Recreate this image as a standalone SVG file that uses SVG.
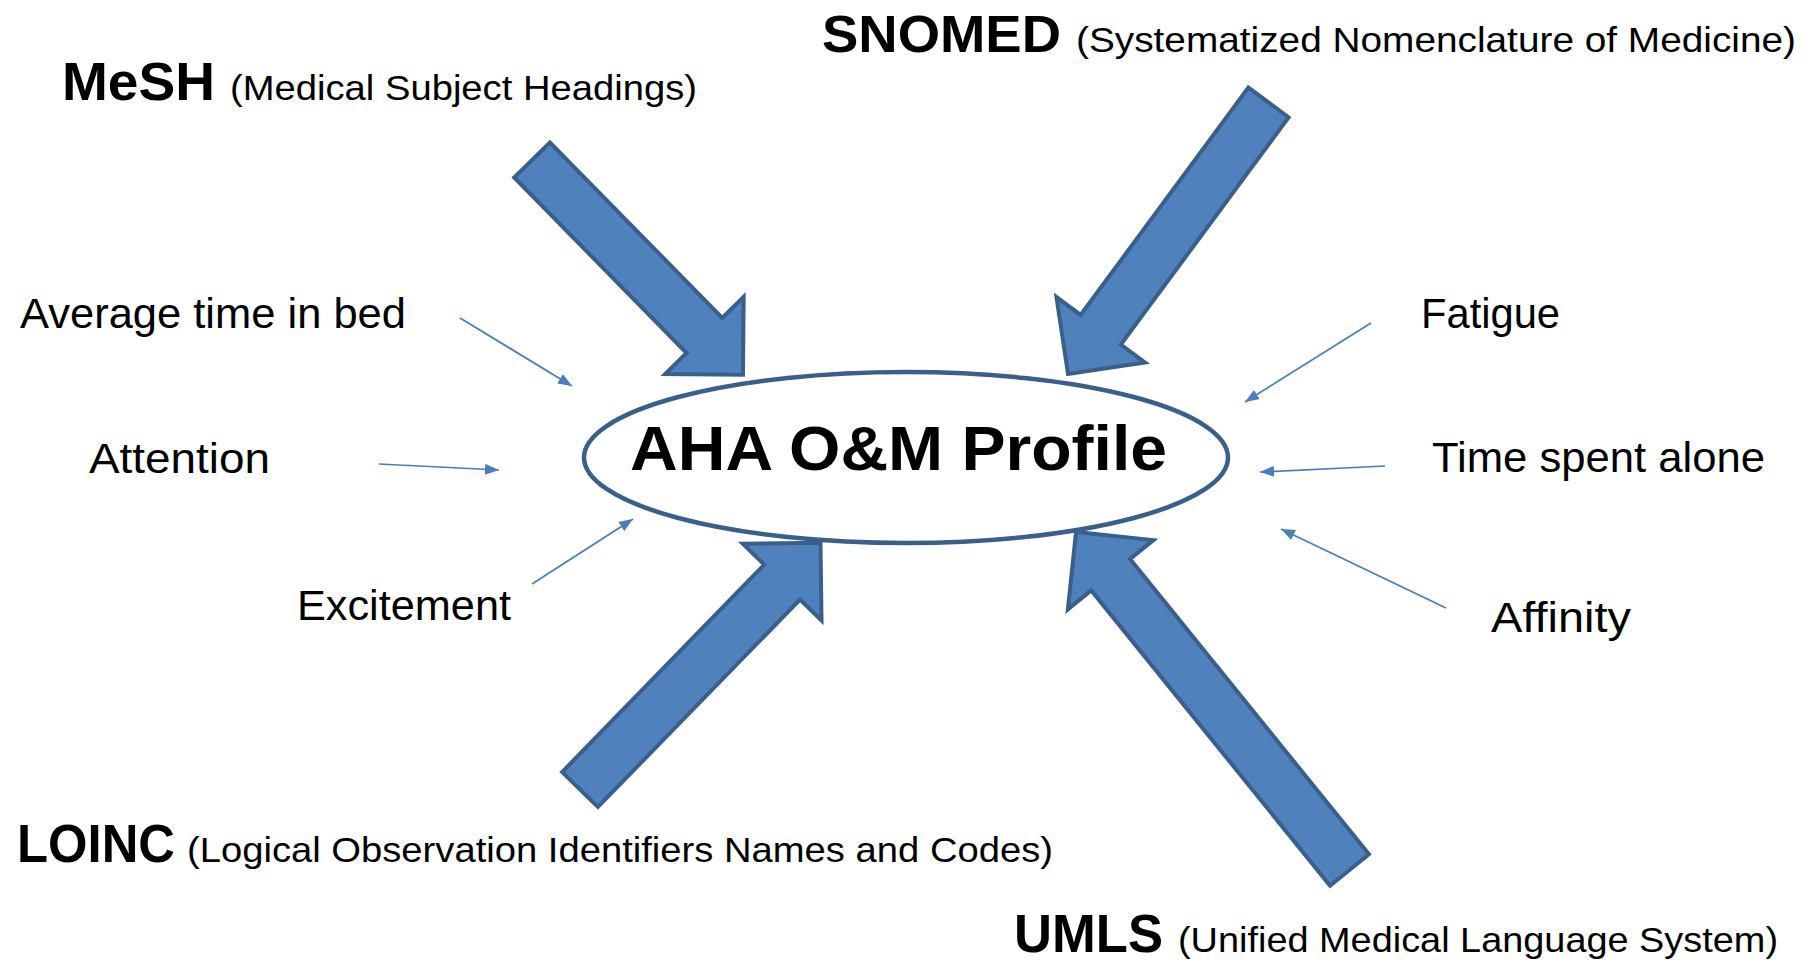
<svg xmlns="http://www.w3.org/2000/svg" width="1818" height="960" viewBox="0 0 1818 960">
<style>
.big{fill:#4F81BD;stroke:#3A5F8B;stroke-width:4;stroke-linejoin:miter}
.thin{stroke:#4A7EBB;stroke-width:1.75;fill:none}
.t{font-family:"Liberation Sans",Arial,sans-serif;fill:#000}
.b{font-weight:bold}
</style>
<defs>
<marker id="ah" viewBox="0 0 14 11" refX="14" refY="5.5" markerWidth="14" markerHeight="11" markerUnits="userSpaceOnUse" orient="auto">
<path d="M0,0 L14,5.5 L0,11 Z" fill="#4A7EBB"/>
</marker>
</defs>
<rect width="1818" height="960" fill="#fff"/>
<g id="center-node">
<ellipse cx="906" cy="457.5" rx="322" ry="85.5" fill="#fff" stroke="#3A5F8B" stroke-width="4.5"/>
<text class="t b" x="630" y="470" font-size="63" textLength="537" lengthAdjust="spacingAndGlyphs">AHA O&amp;M Profile</text>
</g>
<g id="connectors">
<g transform="translate(532,160) rotate(45.5)"><path class="big" d="M0,-25 L246,-25 L246,-55 L301,0 L246,55 L246,25 L0,25 Z"/></g>
<g transform="translate(1268.5,102.5) rotate(126.44)"><path class="big" d="M0,-25 L282.5,-25 L282.5,-55 L337.5,0 L282.5,55 L282.5,25 L0,25 Z"/></g>
<g transform="translate(580,789.5) rotate(-45.74)"><path class="big" d="M0,-25 L289.6,-25 L289.6,-55 L344.6,0 L289.6,55 L289.6,25 L0,25 Z"/></g>
<g transform="translate(1349.5,870) rotate(-128.97)"><path class="big" d="M0,-25 L379.8,-25 L379.8,-55 L434.8,0 L379.8,55 L379.8,25 L0,25 Z"/></g>
<line class="thin" x1="460" y1="318" x2="572" y2="386" marker-end="url(#ah)"/>
<line class="thin" x1="379" y1="464" x2="499" y2="470" marker-end="url(#ah)"/>
<line class="thin" x1="532" y1="584" x2="633" y2="519" marker-end="url(#ah)"/>
<line class="thin" x1="1371" y1="323" x2="1245" y2="402" marker-end="url(#ah)"/>
<line class="thin" x1="1385" y1="466" x2="1260" y2="472" marker-end="url(#ah)"/>
<line class="thin" x1="1446" y1="608" x2="1281" y2="529" marker-end="url(#ah)"/>
</g>
<g id="mesh">
<text class="t b" x="62" y="100" font-size="53" textLength="153" lengthAdjust="spacingAndGlyphs">MeSH</text>
<text class="t" x="230" y="100" font-size="35" textLength="467" lengthAdjust="spacingAndGlyphs">(Medical Subject Headings)</text>
</g>
<g id="snomed">
<text class="t b" x="822" y="52" font-size="52" textLength="239" lengthAdjust="spacingAndGlyphs">SNOMED</text>
<text class="t" x="1076" y="52" font-size="35" textLength="720" lengthAdjust="spacingAndGlyphs">(Systematized Nomenclature of Medicine)</text>
</g>
<g id="loinc">
<text class="t b" x="17" y="862" font-size="54" textLength="158" lengthAdjust="spacingAndGlyphs">LOINC</text>
<text class="t" x="187" y="862" font-size="35" textLength="866" lengthAdjust="spacingAndGlyphs">(Logical Observation Identifiers Names and Codes)</text>
</g>
<g id="umls">
<text class="t b" x="1014" y="952" font-size="54" textLength="149" lengthAdjust="spacingAndGlyphs">UMLS</text>
<text class="t" x="1178" y="952" font-size="35" textLength="600" lengthAdjust="spacingAndGlyphs">(Unified Medical Language System)</text>
</g>
<g id="avg-time-in-bed"><text class="t" x="20" y="328" font-size="42" textLength="386" lengthAdjust="spacingAndGlyphs">Average time in bed</text></g>
<g id="attention"><text class="t" x="89" y="473" font-size="42" textLength="181" lengthAdjust="spacingAndGlyphs">Attention</text></g>
<g id="excitement"><text class="t" x="297" y="620" font-size="42" textLength="214" lengthAdjust="spacingAndGlyphs">Excitement</text></g>
<g id="fatigue"><text class="t" x="1421" y="328" font-size="42" textLength="139" lengthAdjust="spacingAndGlyphs">Fatigue</text></g>
<g id="time-spent-alone"><text class="t" x="1432" y="472" font-size="42" textLength="333" lengthAdjust="spacingAndGlyphs">Time spent alone</text></g>
<g id="affinity"><text class="t" x="1491" y="632" font-size="42" textLength="140" lengthAdjust="spacingAndGlyphs">Affinity</text></g>
</svg>
